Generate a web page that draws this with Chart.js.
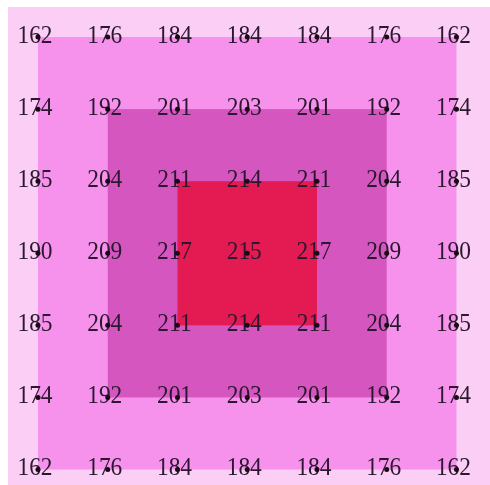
<html><head><meta charset="UTF-8"/>
<title>Grid</title>
<script src="https://cdn.jsdelivr.net/npm/chart.js"></script>
<style>
* { margin: 0; padding: 0; box-sizing: border-box; }
html, body { background: #fbcff5; }
body { width: 490px; height: 485px; overflow: hidden; }
.box { position: relative; width: 490px; height: 485px; background: #ffffff; }
</style>
</head>
<body>
<div class="box"><canvas id="gridChart"></canvas></div>
<script>
// grid values, row by row (top to bottom)
const row1 = [162, 176, 184, 184, 184, 176, 162];
const row2 = [174, 192, 201, 203, 201, 192, 174];
const row3 = [185, 204, 211, 214, 211, 204, 185];
const row4 = [190, 209, 217, 215, 217, 209, 190];
const row5 = [185, 204, 211, 214, 211, 204, 185];
const row6 = [174, 192, 201, 203, 201, 192, 174];
const row7 = [162, 176, 184, 184, 184, 176, 162];
const rows = [row1, row2, row3, row4, row5, row6, row7];

// nested squares: [from, to] in grid index units (outer one = whole area)
const squareFrom = [null, 0, 1, 2];
const squareTo = [null, 6, 5, 4];
const squareColors = ['#fbcff5', '#f692ec', '#d656c0', '#e41a52'];

const points = [];
rows.forEach((r, y) => r.forEach((v, x) => points.push({ x: x, y: y, v: v })));

const squaresPlugin = {
    id: 'squares',
    beforeDatasetsDraw(chart) {
        const ctx = chart.ctx;
        const xs = chart.scales.x, ys = chart.scales.y;
        ctx.save();
        squareColors.forEach((c, i) => {
            let l, r, t, b;
            if (squareFrom[i] === null) {
                // outer band runs to the canvas edge on the right and bottom
                l = xs.left; t = ys.top; r = chart.width + 10; b = chart.height + 10;
            } else {
                l = xs.getPixelForValue(squareFrom[i]);
                r = xs.getPixelForValue(squareTo[i]);
                t = ys.getPixelForValue(squareFrom[i]);
                b = ys.getPixelForValue(squareTo[i]);
            }
            ctx.fillStyle = c;
            ctx.fillRect(l, t, r - l, b - t);
        });
        // value labels under the dots
        ctx.fillStyle = '#2b1830';
        ctx.font = '26px "Liberation Serif", "DejaVu Serif", serif';
        ctx.textAlign = 'center';
        ctx.textBaseline = 'middle';
        points.forEach(p => {
            const px = xs.getPixelForValue(p.x) - 3;
            const py = ys.getPixelForValue(p.y) - 1;
            ctx.save();
            ctx.translate(px, py);
            ctx.scale(0.9, 1);
            ctx.fillText(String(p.v), 0, 0);
            ctx.restore();
        });
        ctx.restore();
    }
};

new Chart(document.getElementById('gridChart'), {
    type: 'scatter',
    data: {
        datasets: [{
            data: points,
            pointRadius: 2.5,
            pointHoverRadius: 2.5,
            backgroundColor: '#1a0a14',
            borderWidth: 0
        }]
    },
    options: {
        responsive: true,
        maintainAspectRatio: false,
        animation: false,
        layout: { padding: { left: 8, top: 7, right: 0, bottom: 0 } },
        plugins: { legend: { display: false }, tooltip: { enabled: false } },
        scales: {
            x: { type: 'linear', min: -0.43, max: 6.445, display: false },
            y: { type: 'linear', min: -0.417, max: 6.18, reverse: true, display: false }
        }
    },
    plugins: [squaresPlugin]
});
</script>
</body></html>
